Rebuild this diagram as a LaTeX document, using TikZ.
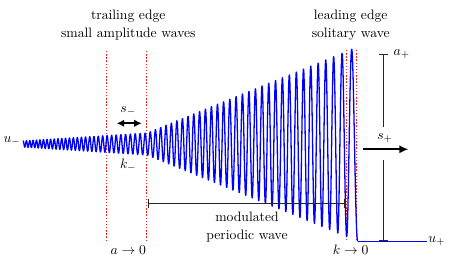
\documentclass[tikz,border=0pt]{standalone}
\usepackage{amsmath}
\usepackage{amssymb}
\usepackage{xcolor}
\usepackage{tikz}
\usetikzlibrary{arrows.meta, positioning, calc}
\definecolor{WaveBlue}{HTML}{0000FF}
\definecolor{EdgeRed}{HTML}{FF2020}

\begin{document}
\begin{tikzpicture}[
    x=0.732pt, y=0.732pt,
    declare function={
      ampl(\x)=3+0.064*(\x-22)+0.345*max(\x-147,0);
      nper(\x)=0.11*\x-30*exp(-(\x-22)/150)-0.6*exp((\x-352)/15)-34.768;
      wave(\x)=116+ampl(\x)*cos(360*mod(nper(\x),1));
    },
    waveline/.style={WaveBlue, line width=0.95pt, line join=round},
    tailline/.style={WaveBlue, line width=0.6pt},
    edgeline/.style={EdgeRed, line width=1.1pt, dash pattern=on 1.1pt off 1.2pt},
    spanbar/.style={black!85, line width=1pt},
    bartip/.style={{Bar[width=7pt]}-{Bar[width=7pt]}},
    movearrow/.style={black, line width=1.2pt, -{Latex[length=6.5pt,width=6pt]}},
    twoarrow/.style={black, line width=1.2pt, {Latex[length=5.5pt,width=5.5pt]}-{Latex[length=5.5pt,width=5.5pt]}},
    lbl/.style={align=center}
]
\useasboundingbox (0,0) rectangle (453,260);

% Edges of the fan
\draw[edgeline] (106.7,19) -- (106.7,210);
\draw[edgeline] (146.7,19) -- (146.7,210);
\draw[edgeline] (346.7,20) -- (346.7,210);
\draw[edgeline] (356.7,20) -- (356.7,210);

% Wave train
\coordinate (wstart) at (23,116);
\coordinate (wend) at (357.7,{wave(357.7)});
\coordinate (tailend) at ($(wend)+(69,0)$);
\draw[waveline] plot[domain=23:357.7, samples=1800] (\x,{wave(\x)});
\draw[tailline] (wend) -- (tailend);
\node[left=1.5pt of wstart, inner sep=0pt, yshift=2pt] (uminus) {$u_-$};
\node[right=1pt of tailend, inner sep=0pt] (uplus) {$u_+$};

% Trailing edge
\node[lbl] (trailing) at (128.3,235) {trailing edge\\[1.5pt]small amplitude waves};
\node (sminus) at (128.3,149) {$s_-$};
\coordinate (smL) at (116.7,136.7);
\coordinate (smR) at (141.7,136.7);
\draw[twoarrow] (smL) -- (smR);
\node (kminus) at (128.3,95) {$k_-$};
\node (aedge) at (128.3,10) {$a \to 0$};

% Modulated region
\coordinate (spanL) at (147.7,56.7);
\coordinate (spanR) at (345.7,56.7);
\draw[spanbar, bartip] (spanL) -- (spanR);
\node[lbl] (modulated) at (247,33) {modulated\\[1.5pt]periodic wave};

% Leading edge
\node[lbl] (leading) at (350.7,235) {leading edge\\[1.5pt]solitary wave};
\node (kedge) at (350.7,10) {$k \to 0$};
\coordinate (atop) at (383.3,206);
\coordinate (agapT) at (383.3,132.7);
\coordinate (agapB) at (383.3,100);
\coordinate (abot) at (383.3,{wave(357.7)});
\draw[spanbar, {Bar[width=7pt]}-] (atop) -- (agapT);
\draw[spanbar, -{Bar[width=7pt]}] (agapB) -- (abot);
\node[right=4pt of atop] (aplus) {$a_+$};
\node (splus) at (385,122.3) {$s_+$};
\coordinate (spL) at (363.3,110.7);
\coordinate (spR) at (408.3,110.7);
\draw[movearrow] (spL) -- (spR);
\end{tikzpicture}
\end{document}
